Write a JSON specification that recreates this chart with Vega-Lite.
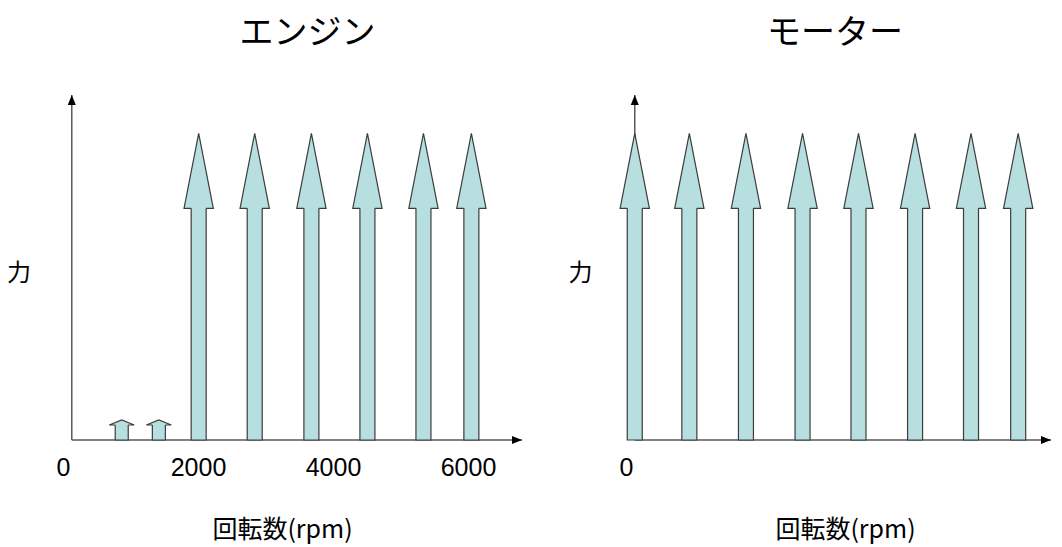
{
  "$schema": "https://vega.github.io/schema/vega-lite/v6.json",
  "padding": {"left": 6, "top": 17, "right": 0, "bottom": 6},
  "background": "white",
  "config": {"view": {"stroke": null}, "concat": {"spacing": 41}, "font": "Noto Sans CJK JP"},
  "datasets": {
    "engine": [
      {"rpm": 870, "force": 0.58},
      {"rpm": 1420, "force": 0.58},
      {"rpm": 2010, "force": 8.89},
      {"rpm": 2840, "force": 8.89},
      {"rpm": 3680, "force": 8.89},
      {"rpm": 4510, "force": 8.89},
      {"rpm": 5340, "force": 8.89},
      {"rpm": 6050, "force": 8.89}
    ],
    "motor": [
      {"rpm": 130, "force": 8.89},
      {"rpm": 940, "force": 8.89},
      {"rpm": 1780, "force": 8.89},
      {"rpm": 2620, "force": 8.89},
      {"rpm": 3450, "force": 8.89},
      {"rpm": 4290, "force": 8.89},
      {"rpm": 5120, "force": 8.89},
      {"rpm": 5820, "force": 8.89}
    ]
  },
  "hconcat": [
    {
      "width": 469,
      "height": 345,
      "title": {"text": "エンジン", "fontSize": 34, "font": "Noto Sans CJK JP", "fontWeight": "normal", "color": "#000000", "anchor": "middle", "frame": "group", "dx": 15, "baseline": "middle", "offset": 26},
      "data": {"name": "engine"},
      "layer": [
        {
          "data": {"values": [{}]},
          "mark": {"type": "rule", "color": "#595959", "strokeWidth": 1.5},
          "encoding": {
            "x": {"datum": 130, "type": "quantitative", "scale": {"domain": [0, 6800], "nice": false, "zero": false},
              "axis": {"title": "回転数(rpm)", "values": [0, 2000, 4000, 6000], "format": "d", "labelFontSize": 25, "labelFont": "Liberation Sans", "labelColor": "#000000", "ticks": false, "tickSize": 0, "domain": false, "grid": false, "labelPadding": 15, "labelFlush": false, "labelBaseline": "top", "titleX": 224, "titleY": 89, "titleAlign": "center", "titleBaseline": "middle", "titleFontSize": 25, "titleFont": "Noto Sans CJK JP", "titleFontWeight": "normal", "titleColor": "#000000"}},
            "x2": {"datum": 6800},
            "y": {"datum": 0, "type": "quantitative", "scale": {"domain": [0, 10], "nice": false},
              "axis": {"title": "力", "titleAngle": 0, "titleX": -39.5, "titleY": 178, "titleAlign": "center", "titleBaseline": "middle", "titleFontSize": 24, "titleFont": "Noto Sans CJK JP", "titleFontWeight": "normal", "titleColor": "#000000", "labels": false, "ticks": false, "domain": false, "grid": false}}
          }
        },
        {
          "data": {"values": [{}]},
          "mark": {"type": "rule", "color": "#595959", "strokeWidth": 1.5},
          "encoding": {
            "x": {"datum": 130, "type": "quantitative", "scale": {"domain": [0, 6800], "nice": false, "zero": false}},
            "y": {"datum": 0, "type": "quantitative", "scale": {"domain": [0, 10], "nice": false}},
            "y2": {"datum": 10}
          }
        },
        {
          "data": {"values": [{}]},
          "mark": {"type": "point", "shape": "M0,0L-2,-0.8L-2,0.8Z", "size": 100, "filled": true, "fill": "#000000", "strokeWidth": 0, "opacity": 1},
          "encoding": {
            "x": {"datum": 6800, "type": "quantitative", "scale": {"domain": [0, 6800], "nice": false, "zero": false}},
            "y": {"datum": 0, "type": "quantitative", "scale": {"domain": [0, 10], "nice": false}}
          }
        },
        {
          "data": {"values": [{}]},
          "mark": {"type": "point", "shape": "M0,0L0.8,2L-0.8,2Z", "size": 100, "filled": true, "fill": "#000000", "strokeWidth": 0, "opacity": 1},
          "encoding": {
            "x": {"datum": 130, "type": "quantitative", "scale": {"domain": [0, 6800], "nice": false, "zero": false}},
            "y": {"datum": 10, "type": "quantitative", "scale": {"domain": [0, 10], "nice": false}}
          }
        },
        {
          "transform": [{"filter": "datum.force > 1"}],
          "mark": {"type": "bar", "width": 15, "fill": "#b8dfe0", "stroke": "#3c3c3c", "strokeWidth": 1.2, "yOffset": 74, "opacity": 1},
          "encoding": {
            "x": {"field": "rpm", "type": "quantitative", "scale": {"domain": [0, 6800], "nice": false, "zero": false}},
            "y": {"field": "force", "type": "quantitative", "scale": {"domain": [0, 10], "nice": false}},
            "y2": {"datum": 0}
          }
        },
        {
          "transform": [{"filter": "datum.force > 1"}],
          "mark": {"type": "point", "shape": "M-0.1,1L-0.1953,1L0,0L0.1953,1L0.1,1", "size": 22500, "filled": true, "fill": "#b8dfe0", "stroke": "#3c3c3c", "strokeWidth": 1.2, "opacity": 1, "fillOpacity": 1, "strokeJoin": "miter"},
          "encoding": {
            "x": {"field": "rpm", "type": "quantitative", "scale": {"domain": [0, 6800], "nice": false, "zero": false}},
            "y": {"field": "force", "type": "quantitative", "scale": {"domain": [0, 10], "nice": false}}
          }
        },
        {
          "transform": [{"filter": "datum.force < 1"}],
          "mark": {"type": "bar", "width": 13, "fill": "#b8dfe0", "stroke": "#3c3c3c", "strokeWidth": 1.2, "yOffset": 4, "opacity": 1},
          "encoding": {
            "x": {"field": "rpm", "type": "quantitative", "scale": {"domain": [0, 6800], "nice": false, "zero": false}},
            "y": {"field": "force", "type": "quantitative", "scale": {"domain": [0, 10], "nice": false}},
            "y2": {"datum": 0}
          }
        },
        {
          "transform": [{"filter": "datum.force < 1"}],
          "mark": {"type": "point", "shape": "M-0.52,0.4L-1,0.4L0,0L1,0.4L0.52,0.4", "size": 625, "filled": true, "fill": "#b8dfe0", "stroke": "#3c3c3c", "strokeWidth": 1.2, "opacity": 1, "fillOpacity": 1},
          "encoding": {
            "x": {"field": "rpm", "type": "quantitative", "scale": {"domain": [0, 6800], "nice": false, "zero": false}},
            "y": {"field": "force", "type": "quantitative", "scale": {"domain": [0, 10], "nice": false}}
          }
        }
      ]
    },
    {
      "width": 435,
      "height": 345,
      "title": {"text": "モーター", "fontSize": 34, "font": "Noto Sans CJK JP", "fontWeight": "normal", "color": "#000000", "anchor": "middle", "frame": "group", "dx": -3.5, "baseline": "middle", "offset": 26},
      "data": {"name": "motor"},
      "layer": [
        {
          "data": {"values": [{}]},
          "mark": {"type": "rule", "color": "#595959", "strokeWidth": 1.5},
          "encoding": {
            "x": {"datum": 130, "type": "quantitative", "scale": {"domain": [0, 6307], "nice": false, "zero": false},
              "axis": {"title": "回転数(rpm)", "values": [0], "format": "d", "labelFontSize": 25, "labelFont": "Liberation Sans", "labelColor": "#000000", "ticks": false, "tickSize": 0, "domain": false, "grid": false, "labelPadding": 15, "labelFlush": false, "labelBaseline": "top", "titleX": 224, "titleY": 89, "titleAlign": "center", "titleBaseline": "middle", "titleFontSize": 25, "titleFont": "Noto Sans CJK JP", "titleFontWeight": "normal", "titleColor": "#000000"}},
            "x2": {"datum": 6307},
            "y": {"datum": 0, "type": "quantitative", "scale": {"domain": [0, 10], "nice": false},
              "axis": {"title": "力", "titleAngle": 0, "titleX": -41, "titleY": 178, "titleAlign": "center", "titleBaseline": "middle", "titleFontSize": 24, "titleFont": "Noto Sans CJK JP", "titleFontWeight": "normal", "titleColor": "#000000", "labels": false, "ticks": false, "domain": false, "grid": false}}
          }
        },
        {
          "data": {"values": [{}]},
          "mark": {"type": "rule", "color": "#595959", "strokeWidth": 1.5},
          "encoding": {
            "x": {"datum": 130, "type": "quantitative", "scale": {"domain": [0, 6307], "nice": false, "zero": false}},
            "y": {"datum": 0, "type": "quantitative", "scale": {"domain": [0, 10], "nice": false}},
            "y2": {"datum": 10}
          }
        },
        {
          "data": {"values": [{}]},
          "mark": {"type": "point", "shape": "M0,0L-2,-0.8L-2,0.8Z", "size": 100, "filled": true, "fill": "#000000", "strokeWidth": 0, "opacity": 1},
          "encoding": {
            "x": {"datum": 6307, "type": "quantitative", "scale": {"domain": [0, 6307], "nice": false, "zero": false}},
            "y": {"datum": 0, "type": "quantitative", "scale": {"domain": [0, 10], "nice": false}}
          }
        },
        {
          "data": {"values": [{}]},
          "mark": {"type": "point", "shape": "M0,0L0.8,2L-0.8,2Z", "size": 100, "filled": true, "fill": "#000000", "strokeWidth": 0, "opacity": 1},
          "encoding": {
            "x": {"datum": 130, "type": "quantitative", "scale": {"domain": [0, 6307], "nice": false, "zero": false}},
            "y": {"datum": 10, "type": "quantitative", "scale": {"domain": [0, 10], "nice": false}}
          }
        },
        {
          "mark": {"type": "bar", "width": 15, "fill": "#b8dfe0", "stroke": "#3c3c3c", "strokeWidth": 1.2, "yOffset": 74, "opacity": 1},
          "encoding": {
            "x": {"field": "rpm", "type": "quantitative", "scale": {"domain": [0, 6307], "nice": false, "zero": false}},
            "y": {"field": "force", "type": "quantitative", "scale": {"domain": [0, 10], "nice": false}},
            "y2": {"datum": 0}
          }
        },
        {
          "mark": {"type": "point", "shape": "M-0.1,1L-0.1953,1L0,0L0.1953,1L0.1,1", "size": 22500, "filled": true, "fill": "#b8dfe0", "stroke": "#3c3c3c", "strokeWidth": 1.2, "opacity": 1, "fillOpacity": 1, "strokeJoin": "miter"},
          "encoding": {
            "x": {"field": "rpm", "type": "quantitative", "scale": {"domain": [0, 6307], "nice": false, "zero": false}},
            "y": {"field": "force", "type": "quantitative", "scale": {"domain": [0, 10], "nice": false}}
          }
        }
      ]
    }
  ]
}
